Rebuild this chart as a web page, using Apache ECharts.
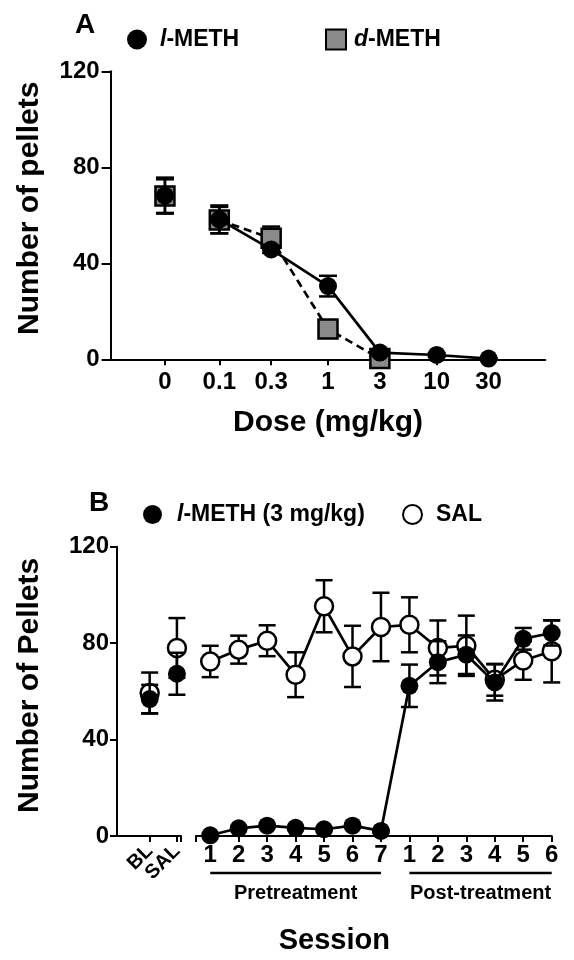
<!DOCTYPE html>
<html><head><meta charset="utf-8">
<script src="https://cdn.jsdelivr.net/npm/echarts@6/dist/echarts.min.js"></script>
<style>html,body{margin:0;padding:0;background:#fff}#c{width:574px;height:960px}</style>
</head><body><div id="c"></div>
<script>
// ---------- Panel A data ----------
const doseValues = [0, 0.1, 0.3, 1, 3, 10, 30];
const doseLabels = ['0', '0.1', '0.3', '1', '3', '10', '30'];
const lMethMean = [68.2, 58.3, 45.8, 30.5, 2.8, 1.8, 0.3];
const lMethSem = [7.5, 5.8, 1.5, 4.3, 1.0, 0.8, 0.3];
const dMethDoses = [0, 0.1, 0.3, 1, 3];
const dMethMean = [68.0, 58.0, 50.4, 12.6, 0.3];
const dMethSem = [7.0, 5.5, 4.9, 2.0, 0.3];
const yTicks = [0, 40, 80, 120];

// ---------- Panel B data ----------
const baselineCats = ['BL', 'SAL'];
const salBase = [59.3, 78.0];
const salBaseSem = [8.5, 12.4];
const methBase = [56.8, 67.3];
const methBaseSem = [5.9, 8.7];
const sessionLabels = ['1', '2', '3', '4', '5', '6', '7', '1', '2', '3', '4', '5', '6'];
const salSessions = [72.4, 77.3, 81.0, 66.9, 95.3, 74.5, 86.7, 87.6, 78.0, 78.9, 64.8, 72.8, 76.6];
const salSessionsSem = [6.5, 5.8, 6.4, 9.3, 10.8, 12.7, 14.2, 11.4, 11.4, 12.5, 6.6, 8.0, 12.9];
const methSessions = [0.3, 3.2, 4.3, 3.4, 2.8, 4.3, 2.1, 62.3, 72.1, 75.2, 63.7, 81.8, 84.2];
const methSessionsSem = [0.3, 0.5, 0.5, 0.5, 0.5, 0.5, 0.5, 8.8, 8.7, 8.0, 7.5, 4.5, 5.2];
const phaseLabels = ['Pretreatment', 'Post-treatment'];
const phaseSizes = [7, 6];

// ---------- helpers ----------
const FONT = '"Liberation Sans", Arial, Helvetica, sans-serif';
const doseToX = d => d === 0 ? -1.5 : Math.log10(d);
const doseX = doseValues.map(doseToX);
const dDoseX = dMethDoses.map(doseToX);
const baseX = baselineCats.map((c, i) => i + 1);
const sessX = sessionLabels.map((c, i) => i + 1);
const B1_MIN = -0.2, B1_MAX = 2.15;

function errorSeries(name, xi, yi, xs, means, sems, z, capW) {
  return {
    type: 'custom', name: name, xAxisIndex: xi, yAxisIndex: yi, z: z, silent: true, clip: false,
    data: xs.map((x, i) => [x, means[i] - sems[i], means[i] + sems[i]]),
    encode: { x: 0, y: [1, 2] },
    renderItem: function (params, api) {
      const lo = api.coord([api.value(0), api.value(1)]);
      const hi = api.coord([api.value(0), api.value(2)]);
      const h = capW / 2;
      const st = { stroke: '#000', lineWidth: 2.5, fill: null };
      return { type: 'group', children: [
        { type: 'line', shape: { x1: lo[0], y1: lo[1], x2: hi[0], y2: hi[1] }, style: st },
        { type: 'line', shape: { x1: lo[0] - h, y1: lo[1], x2: lo[0] + h, y2: lo[1] }, style: st },
        { type: 'line', shape: { x1: hi[0] - h, y1: hi[1], x2: hi[0] + h, y2: hi[1] }, style: st }
      ] };
    }
  };
}
function lineSeries(name, xi, yi, xs, ys, z, dashed) {
  return {
    type: 'line', name: name, xAxisIndex: xi, yAxisIndex: yi, z: z, silent: true,
    symbol: 'none', data: xs.map((x, i) => [x, ys[i]]),
    lineStyle: { color: '#000', width: 2.7, type: dashed ? [8, 5] : 'solid' }
  };
}
function markerSeries(name, xi, yi, xs, ys, z, symbol, size, fill) {
  return {
    type: 'scatter', name: name, xAxisIndex: xi, yAxisIndex: yi, z: z,
    symbol: symbol, symbolSize: size, data: xs.map((x, i) => [x, ys[i]]),
    itemStyle: { color: fill, borderColor: '#000', borderWidth: fill === '#000' ? 0 : 2.5, opacity: 1 }
  };
}
const boldText = (size) => ({ color: '#000', fontSize: size, fontWeight: 'bold', fontFamily: FONT });
function richLegendText(size) {
  return Object.assign(boldText(size), {
    rich: {
      i: Object.assign(boldText(size), { fontStyle: 'italic' }),
      b: boldText(size)
    }
  });
}
const legendFmt = name => {
  const m = name.match(/^([ld])(-.*)$/);
  return m ? '{i|' + m[1] + '}{b|' + m[2] + '}' : '{b|' + name + '}';
};
const axisLineStyle = { lineStyle: { color: '#000', width: 2 } };

function yAxisCfg(grid, name, gap, tickLen, margin, show, shift) {
  return {
    gridIndex: grid, type: 'value', min: yTicks[0], max: yTicks[yTicks.length - 1], interval: 40, show: show,
    axisLine: Object.assign({ show: true, onZero: false }, axisLineStyle),
    axisTick: { show: true, length: tickLen, lineStyle: { color: '#000', width: 2 } },
    axisLabel: Object.assign(boldText(24), { margin: margin }),
    splitLine: { show: false },
    name: name, nameLocation: 'middle', nameGap: gap,
    nameTextStyle: Object.assign(boldText(30), { padding: [0, 0, 0, shift || 0] })
  };
}
// one label-only axis per baseline category (keeps the rotated, overlapping labels visible)
function baselineLabelAxis(i) {
  return {
    gridIndex: 1, type: 'value', min: B1_MIN, max: B1_MAX, position: 'bottom', offset: 0,
    axisLine: { show: false }, axisTick: { show: false }, splitLine: { show: false },
    axisLabel: Object.assign(boldText(20), {
      margin: 12, rotate: 45, customValues: [baseX[i]], hideOverlap: false,
      showMinLabel: true, showMaxLabel: true,
      formatter: () => baselineCats[i]
    })
  };
}

const chart = echarts.init(document.getElementById('c'), null, { renderer: 'canvas' });

const option = {
  animation: false,
  backgroundColor: '#fff',
  grid: [
    { left: 110.6, right: 28.6, top: 71.3, height: 288 },
    { left: 117, width: 64, top: 546.7, height: 289.3 },
    { left: 196, right: 22.3, top: 546.7, height: 289.3 }
  ],
  xAxis: [
    {
      gridIndex: 0, type: 'value', min: -2, max: 2,
      axisLine: Object.assign({ show: true, onZero: false }, axisLineStyle),
      axisTick: { show: true, length: 6, customValues: doseX, lineStyle: { color: '#000', width: 2 } },
      axisLabel: Object.assign(boldText(24), {
        margin: 11, customValues: doseX, hideOverlap: false,
        formatter: v => { const i = doseX.findIndex(x => Math.abs(x - v) < 1e-6); return i >= 0 ? doseLabels[i] : ''; }
      }),
      splitLine: { show: false },
      name: 'Dose (mg/kg)', nameLocation: 'middle', nameGap: 48, nameTextStyle: boldText(30)
    },
    {
      gridIndex: 1, type: 'value', min: B1_MIN, max: B1_MAX, position: 'bottom',
      axisLine: Object.assign({ show: true, onZero: false }, axisLineStyle),
      axisTick: { show: true, length: 6, customValues: baseX.concat([B1_MAX]), lineStyle: { color: '#000', width: 2 } },
      axisLabel: { show: false },
      splitLine: { show: false }
    },
    {
      gridIndex: 2, type: 'value', min: 0.5, max: sessX.length,
      axisLine: Object.assign({ show: true, onZero: false }, axisLineStyle),
      axisTick: { show: true, length: 6, customValues: [0.5].concat(sessX), lineStyle: { color: '#000', width: 2 } },
      axisLabel: Object.assign(boldText(24), {
        margin: 7, customValues: sessX, hideOverlap: false,
        formatter: v => sessionLabels[Math.round(v) - 1] || ''
      }),
      splitLine: { show: false }
    },
    baselineLabelAxis(0),
    baselineLabelAxis(1)
  ],
  yAxis: [
    yAxisCfg(0, 'Number of pellets', 66, 9, 11, true, 14),
    yAxisCfg(1, 'Number of Pellets', 72, 7, 8, true, 12),
    yAxisCfg(2, '', 0, 0, 0, false, 0)
  ],
  legend: [
    { left: 127, top: 28, padding: 0, itemWidth: 20, itemHeight: 20, itemGap: 0, data: ['l-METH'],
      formatter: legendFmt, textStyle: Object.assign(richLegendText(23), { padding: [0, 0, 0, 8] }), selectedMode: false },
    { left: 325, top: 28, padding: 0, itemWidth: 20, itemHeight: 20, itemGap: 0, data: ['d-METH'],
      formatter: legendFmt, textStyle: Object.assign(richLegendText(23), { padding: [0, 0, 0, 3] }), selectedMode: false },
    { left: 143, top: 503, padding: 0, itemWidth: 19, itemHeight: 19, itemGap: 0, data: ['l-METH (3 mg/kg)'],
      formatter: legendFmt, textStyle: Object.assign(richLegendText(23), { padding: [0, 0, 0, 10] }), selectedMode: false },
    { left: 402, top: 503, padding: 0, itemWidth: 19, itemHeight: 19, itemGap: 0, data: ['SAL'],
      formatter: legendFmt, textStyle: Object.assign(richLegendText(23), { padding: [0, 0, 0, 9] }), selectedMode: false }
  ],
  series: [
    // Panel A: d-METH first (below), l-METH on top
    errorSeries('d-err', 0, 0, dDoseX, dMethMean, dMethSem, 2, 18),
    lineSeries('d-line', 0, 0, dDoseX.slice(1), dMethMean.slice(1), 3, true),
    markerSeries('d-METH', 0, 0, dDoseX, dMethMean, 4, 'rect', 19, '#8a8a8a'),
    errorSeries('l-err', 0, 0, doseX, lMethMean, lMethSem, 5, 18),
    lineSeries('l-line', 0, 0, doseX.slice(1), lMethMean.slice(1), 6, false),
    markerSeries('l-METH', 0, 0, doseX, lMethMean, 7, 'circle', 18, '#000'),
    // Panel B: SAL
    errorSeries('sal-err-b', 1, 1, baseX, salBase, salBaseSem, 2, 17),
    markerSeries('SAL', 1, 1, baseX, salBase, 4, 'circle', 18, '#fff'),
    errorSeries('sal-err-s', 2, 2, sessX, salSessions, salSessionsSem, 2, 17),
    lineSeries('sal-line', 2, 2, sessX, salSessions, 3, false),
    markerSeries('SAL', 2, 2, sessX, salSessions, 4, 'circle', 18, '#fff'),
    // Panel B: l-METH
    errorSeries('meth-err-b', 1, 1, baseX, methBase, methBaseSem, 5, 17),
    markerSeries('l-METH (3 mg/kg)', 1, 1, baseX, methBase, 7, 'circle', 18, '#000'),
    errorSeries('meth-err-s', 2, 2, sessX, methSessions, methSessionsSem, 5, 17),
    lineSeries('meth-line', 2, 2, sessX, methSessions, 6, false),
    markerSeries('l-METH (3 mg/kg)', 2, 2, sessX, methSessions, 7, 'circle', 18, '#000')
  ]
};
chart.setOption(option);

// ---------- annotations placed through the axes ----------
const px = v => chart.convertToPixel({ xAxisIndex: 2 }, v);
const axisYB = chart.convertToPixel({ yAxisIndex: 2 }, 0);
const yAxisXB = chart.convertToPixel({ xAxisIndex: 1 }, B1_MIN);
const graphics = [
  { type: 'text', left: 75, top: 11, style: { text: 'A', fill: '#000', font: 'bold 28px ' + FONT } },
  { type: 'text', left: 89, top: 489, style: { text: 'B', fill: '#000', font: 'bold 28px ' + FONT } }
];
let start = 1;
phaseSizes.forEach((n, k) => {
  const x1 = px(start), x2 = px(start + n - 1);
  graphics.push({ type: 'line', silent: true, shape: { x1: x1, y1: axisYB + 37, x2: x2, y2: axisYB + 37 },
    style: { stroke: '#000', lineWidth: 2.5 } });
  graphics.push({ type: 'text', silent: true, x: (x1 + x2) / 2, y: axisYB + 57,
    style: { text: phaseLabels[k], fill: '#000', font: 'bold 20px ' + FONT, textAlign: 'center', textVerticalAlign: 'middle' } });
  start += n;
});
graphics.push({ type: 'text', silent: true, x: (yAxisXB + px(sessX.length)) / 2, y: axisYB + 105,
  style: { text: 'Session', fill: '#000', font: 'bold 29px ' + FONT, textAlign: 'center', textVerticalAlign: 'middle' } });
chart.setOption({ graphic: graphics });
</script>
</body></html>
